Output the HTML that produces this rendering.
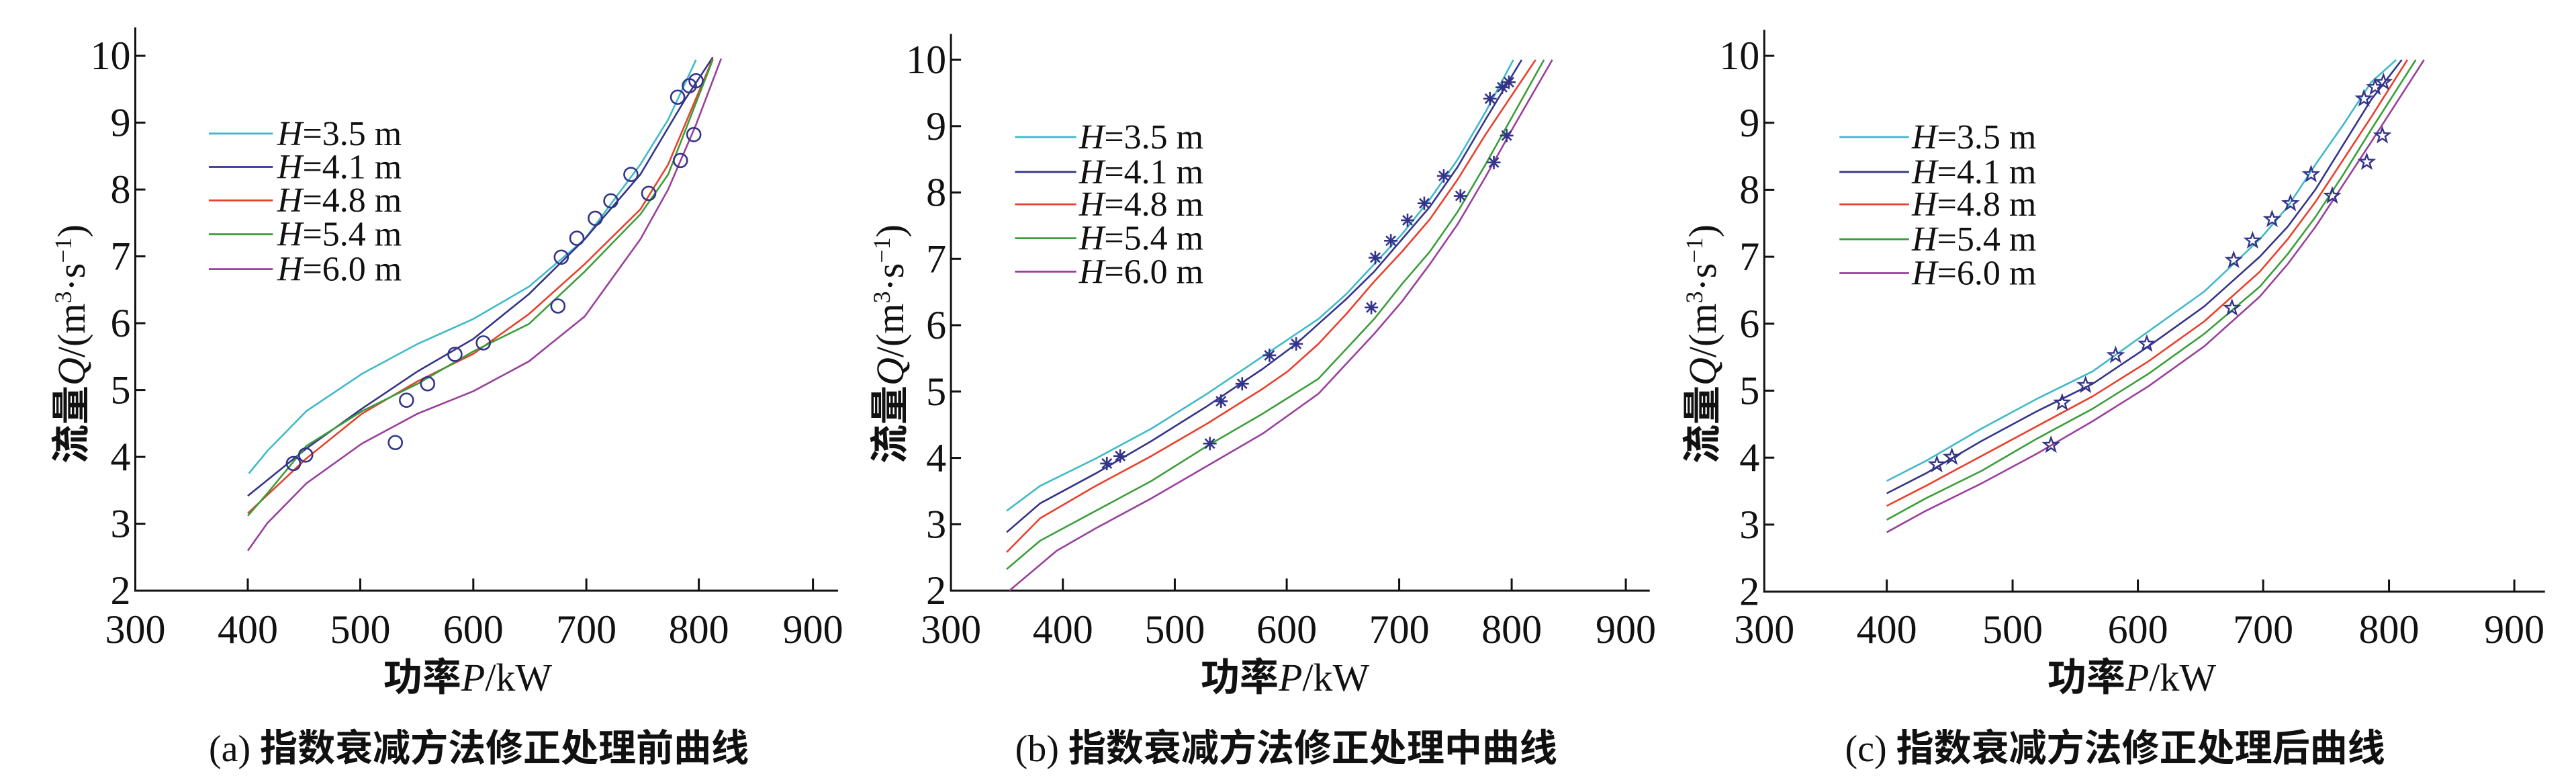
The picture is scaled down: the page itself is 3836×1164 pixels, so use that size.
<!DOCTYPE html>
<html><head><meta charset="utf-8">
<style>html,body{margin:0;padding:0;background:#fff;}svg{display:block}</style>
</head><body>
<svg id="s" xmlns="http://www.w3.org/2000/svg" width="3836" height="1164" viewBox="0 0 3836 1164"></svg>
<script>
const S=document.getElementById('s');
const SX=1.206, SY=1.348;
const COL=['#3fb9c9','#34348a','#e8402c','#3a9e3a','#9a3f9c'];
const LAB=['3.5','4.1','4.8','5.4','6.0'];
let h='';
function P(off,pts){return pts.map(p=>(off+p[0]/SX).toFixed(1)+','+(p[1]/SY).toFixed(1)).join(' ');}
const panels=[
{off:0,ax:243,bot:1185,top:55,right:1505,xt:[243,445,647,850,1053,1255,1460],y10:112,
 leg:{x1:375,x2:490,tx:498,rows:[268,335,402,470,540]},xtitle:840,cap:860,capText:'(a) 指数衰减方法修正处理前曲线',ytx:128,mk:'o',
 curves:[
 [[447,950],[480,905],[550,825],[650,750],[750,690],[850,640],[950,575],[1050,480],[1150,330],[1200,240],[1250,120]],
 [[445,995],[550,900],[650,820],[750,745],[850,680],[950,590],[1050,480],[1150,350],[1230,200],[1280,115]],
 [[445,1030],[550,920],[650,830],[750,765],[850,710],[950,630],[1050,530],[1150,420],[1200,330],[1280,118]],
 [[445,1035],[480,990],[550,895],[650,825],[750,770],[850,705],[950,650],[1050,545],[1150,430],[1200,350],[1280,120]],
 [[445,1105],[480,1050],[550,970],[650,890],[750,830],[850,785],[950,725],[1050,635],[1150,480],[1200,380],[1250,250],[1295,118]]],
 pts:[[527,930],[549,913],[710,888],[730,803],[768,770],[817,711],[868,688],[1002,614],[1008,516],[1036,478],[1069,438],[1097,403],[1133,350],[1165,388],[1217,195],[1222,322],[1238,172],[1246,270],[1250,162]]},
{off:1300,ax:140,bot:1185,top:68,right:1395,xt:[140,341,542,743,945,1147,1352],y10:120,
 leg:{x1:255,x2:365,tx:370,rows:[275,345,410,478,545]},xtitle:740,cap:742,capText:'(b) 指数衰减方法修正处理中曲线',ytx:30,mk:'*',
 curves:[
 [[240,1025],[300,975],[400,920],[500,860],[600,790],[700,715],[800,640],[850,590],[900,530],[950,470],[1000,400],[1050,320],[1100,225],[1150,120]],
 [[240,1068],[300,1010],[400,950],[500,885],[600,815],[700,740],[760,690],[800,650],[850,600],[900,545],[950,480],[1000,415],[1050,335],[1100,240],[1165,120]],
 [[240,1108],[300,1040],[400,975],[500,915],[600,850],[700,780],[745,745],[800,690],[850,630],[900,565],[950,505],[1000,440],[1050,360],[1100,270],[1190,120]],
 [[240,1142],[300,1085],[400,1025],[500,965],[600,895],[700,830],[800,760],[850,700],[900,640],[950,570],[1000,505],[1050,425],[1100,330],[1150,230],[1205,120]],
 [[245,1185],[330,1105],[400,1060],[500,1000],[600,935],[700,870],[800,790],[850,730],[900,670],[950,605],[1000,530],[1050,450],[1100,355],[1150,255],[1220,120]]],
 pts:[[420,930],[444,915],[605,890],[625,805],[663,770],[712,713],[760,690],[895,617],[902,517],[930,483],[960,442],[990,408],[1025,353],[1055,393],[1108,198],[1115,326],[1130,175],[1138,272],[1142,165]]},
{off:2536,ax:110,bot:1187,top:60,right:1512,xt:[110,330,556,781,1006,1232,1457],y10:112,
 leg:{x1:245,x2:370,tx:375,rows:[275,345,410,480,548]},xtitle:770,cap:740,capText:'(c) 指数衰减方法修正处理后曲线',ytx:-1,mk:'star',
 curves:[
 [[330,965],[400,925],[500,860],[600,800],[700,745],[800,665],[900,585],[1000,480],[1050,415],[1100,330],[1150,250],[1200,165],[1245,120]],
 [[330,990],[400,950],[500,885],[600,825],[700,770],[800,695],[900,615],[1000,515],[1050,455],[1100,380],[1150,290],[1200,200],[1255,120]],
 [[330,1015],[400,975],[500,915],[600,855],[700,795],[800,725],[900,645],[1000,545],[1050,480],[1100,405],[1150,320],[1200,235],[1265,120]],
 [[330,1043],[400,1000],[500,945],[600,880],[700,820],[800,750],[900,670],[1000,575],[1050,510],[1100,435],[1150,350],[1200,260],[1280,120]],
 [[330,1068],[400,1025],[500,970],[600,910],[700,845],[800,775],[900,695],[1000,595],[1050,530],[1100,455],[1150,370],[1200,285],[1295,120]]],
 pts:[[420,932],[447,917],[625,893],[645,808],[687,773],[741,713],[797,690],[950,618],[953,522],[987,483],[1022,440],[1055,408],[1092,350],[1130,393],[1187,198],[1192,325],[1207,175],[1220,272],[1222,165]]}
];
const serif='font-family="Liberation Serif, serif"';
const cjk='"Liberation Serif","Noto Sans CJK SC",sans-serif';
panels.forEach((p,pi)=>{
  const o=p.off, X=z=>o+z/SX, Y=z=>z/SY;
  // axes
  h+=`<path d="M${X(p.ax)},${Y(p.top)} L${X(p.ax)},${Y(p.bot)} L${X(p.right)},${Y(p.bot)}" fill="none" stroke="#111" stroke-width="3"/>`;
  p.xt.forEach((t,i)=>{
    if(i>0)h+=`<line x1="${X(t)}" y1="${Y(p.bot)}" x2="${X(t)}" y2="${Y(p.bot)-18}" stroke="#111" stroke-width="3"/>`;
    h+=`<text x="${X(t)}" y="957" ${serif} font-size="60" text-anchor="middle" fill="#111">${300+i*100}</text>`;
  });
  const st=(p.bot-p.y10)/8;
  for(let k=0;k<=8;k++){
    const zy=p.bot-k*st;
    if(k>0)h+=`<line x1="${X(p.ax)}" y1="${Y(zy)}" x2="${X(p.ax)+15}" y2="${Y(zy)}" stroke="#111" stroke-width="3"/>`;
    h+=`<text x="${X(p.ax)-7}" y="${Y(zy)+20}" ${serif} font-size="60" text-anchor="end" fill="#111">${2+k}</text>`;
  }
  // curves
  p.curves.forEach((c,i)=>{h+=`<polyline points="${P(o,c)}" fill="none" stroke="${COL[i]}" stroke-width="2.6" stroke-linejoin="round"/>`;});
  // markers
  p.pts.forEach(q=>{
    const x=X(q[0]),y=Y(q[1]);
    if(p.mk=='o')h+=`<circle cx="${x}" cy="${y}" r="10" fill="none" stroke="#33338a" stroke-width="2.6"/>`;
    else if(p.mk=='*'){
      let d='';for(let a=0;a<4;a++){const t=a*Math.PI/4;d+=`M${x-10*Math.cos(t)},${y-10*Math.sin(t)}L${x+10*Math.cos(t)},${y+10*Math.sin(t)}`;}
      h+=`<path d="${d}" stroke="#33338a" stroke-width="2.6" fill="none"/>`;
    } else {
      let pts=[];for(let a=0;a<10;a++){const r=a%2?4.5:11,t=-Math.PI/2+a*Math.PI/5;pts.push((x+r*Math.cos(t)).toFixed(1)+','+(y+r*Math.sin(t)).toFixed(1));}
      h+=`<polygon points="${pts.join(' ')}" fill="none" stroke="#33338a" stroke-width="2.4"/>`;
    }
  });
  // legend
  p.leg.rows.forEach((r,i)=>{
    h+=`<line x1="${X(p.leg.x1)}" y1="${Y(r)}" x2="${X(p.leg.x2)}" y2="${Y(r)}" stroke="${COL[i]}" stroke-width="2.8"/>`;
    h+=`<text x="${X(p.leg.tx)}" y="${Y(r)+17}" ${serif} font-size="52" fill="#111"><tspan font-style="italic">H</tspan>=${LAB[i]} m</text>`;
  });
  // x title
  h+=`<text x="${X(p.xtitle)}" y="1028" font-family='${cjk}' font-size="58" text-anchor="middle" fill="#111"><tspan font-weight="bold" font-family='"Noto Sans CJK SC",sans-serif'>功率</tspan><tspan font-style="italic" font-family="Liberation Serif,serif">P</tspan><tspan font-family="Liberation Serif,serif">/kW</tspan></text>`;
  // caption
  h+=`<text x="${X(p.cap)}" y="1133" font-family='${cjk}' font-size="56" text-anchor="middle" fill="#111"><tspan font-family="Liberation Serif,serif">${p.capText.slice(0,4)}</tspan><tspan font-weight="bold" font-family='"Noto Sans CJK SC",sans-serif'>${p.capText.slice(4)}</tspan></text>`;
  // y title
  const yx=X(p.ytx)+20, yy=512;
  h+=`<text transform="translate(${yx},${yy}) rotate(-90)" font-size="58" text-anchor="middle" fill="#111"><tspan font-weight="bold" font-family='"Noto Sans CJK SC",sans-serif'>流量</tspan><tspan font-style="italic" font-family="Liberation Serif,serif">Q</tspan><tspan font-family="Liberation Serif,serif">/(m<tspan dy="-20" font-size="36">3</tspan><tspan dy="20">·s</tspan><tspan dy="-20" font-size="36">−1</tspan><tspan dy="20">)</tspan></tspan></text>`;
});
S.innerHTML=h;
</script>
</body></html>
